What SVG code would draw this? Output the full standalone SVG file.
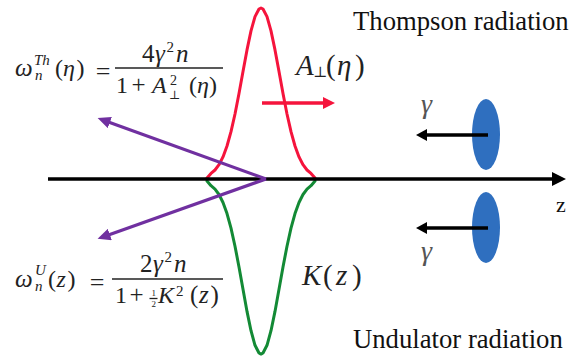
<svg xmlns="http://www.w3.org/2000/svg" width="573" height="361" viewBox="0 0 573 361">
<style>
.t{font-family:"Liberation Serif","Times New Roman","DejaVu Serif",serif;fill:#111}
.m{font-family:"Liberation Serif","Times New Roman","DejaVu Serif",serif;fill:#222}
.i{font-style:italic}
.g{fill:#555}
.curve{fill:none;stroke-width:3;stroke-linejoin:round;stroke-linecap:round}
.bar{stroke:#222;stroke-width:1.3}
</style>
<defs>
<marker id="hBlack" markerUnits="userSpaceOnUse" markerWidth="14" markerHeight="14" refX="3" refY="7" orient="auto"><path d="M0,0 L14,7 L0,14 z" fill="#000"/></marker>
<marker id="hSmall" markerUnits="userSpaceOnUse" markerWidth="11" markerHeight="12" refX="3" refY="6" orient="auto"><path d="M0,0 L11,6 L0,12 z" fill="#000"/></marker>
<marker id="hRed" markerUnits="userSpaceOnUse" markerWidth="12" markerHeight="12" refX="3" refY="6" orient="auto"><path d="M0,0 L12,6 L0,12 z" fill="#f5143c"/></marker>
<marker id="hPurple" markerUnits="userSpaceOnUse" markerWidth="13" markerHeight="12" refX="3" refY="6" orient="auto"><path d="M0,0 L13,6 L0,12 z" fill="#7030a0"/></marker>
</defs>
<rect width="573" height="361" fill="#fff"/>

<g id="label-thompson"><text class="t" x="353" y="30" font-size="26.7">Thompson radiation</text></g>
<g id="label-undulator"><text class="t" x="353" y="348" font-size="26.7">Undulator radiation</text></g>

<g id="pulse-laser">
<path class="curve" stroke="#f5143c" d="M207,178 L211,173.4 L215,170 L219,164.7 L223,156.9 L227,146 L231,131.7 L235,114 L239,93.5 L243,71.6 L247,49.9 L251,30.9 L255,16.6 L259,9 L261,8 L263,9 L267,16.6 L271,30.9 L275,49.9 L279,71.6 L283,93.5 L287,114 L291,131.7 L295,146 L299,156.9 L303,164.7 L307,170 L311,173.4 L315,178"/>
<text class="m" font-size="29"><tspan class="i" x="296" y="75">A</tspan><tspan x="313" y="77" font-size="15">⊥</tspan><tspan x="326" y="75">(</tspan><tspan class="i" x="337" y="75">η</tspan><tspan x="355" y="75">)</tspan></text>
</g>

<g id="pulse-undulator">
<path class="curve" stroke="#138a35" d="M207,181 L211,185.7 L215,189.1 L219,194.5 L223,202.5 L227,213.6 L231,228.1 L235,246.2 L239,267 L243,289.3 L247,311.4 L251,330.7 L255,345.3 L259,353 L261,354.1 L263,353 L267,345.3 L271,330.7 L275,311.4 L279,289.3 L283,267 L287,246.2 L291,228.1 L295,213.6 L299,202.5 L303,194.5 L307,189.1 L311,185.7 L315,181"/>
<text class="m" font-size="29"><tspan class="i" x="302" y="285">K</tspan><tspan x="323" y="285">(</tspan><tspan class="i" x="336" y="285">z</tspan><tspan x="352" y="285">)</tspan></text>
</g>

<g id="bunch-top">
<ellipse cx="486" cy="134.5" rx="14" ry="35.5" fill="#2f6fbf"/>
<text class="m i g" x="421" y="113" font-size="28">γ</text>
</g>
<g id="bunch-bottom">
<ellipse cx="486" cy="227.5" rx="14" ry="35.5" fill="#2f6fbf"/>
<text class="m i g" x="421" y="260" font-size="28">γ</text>
</g>

<g id="axis-label"><text class="t" x="556" y="212" font-size="22">z</text></g>

<g id="connectors">
<line x1="48" y1="179" x2="555" y2="179" stroke="#000" stroke-width="3.5" marker-end="url(#hBlack)"/>
<line x1="266" y1="179" x2="107" y2="121.5" stroke="#7030a0" stroke-width="3.2" marker-end="url(#hPurple)"/>
<line x1="266" y1="179" x2="107" y2="235.5" stroke="#7030a0" stroke-width="3.2" marker-end="url(#hPurple)"/>
<line x1="262" y1="103" x2="326" y2="103" stroke="#f5143c" stroke-width="3.5" marker-end="url(#hRed)"/>
<line x1="488" y1="135" x2="424" y2="135" stroke="#000" stroke-width="3.5" marker-end="url(#hSmall)"/>
<line x1="488" y1="228" x2="424" y2="228" stroke="#000" stroke-width="3.5" marker-end="url(#hSmall)"/>
</g>

<g id="formula-thompson">
<line class="bar" x1="115" y1="68" x2="223" y2="68"/>
<text class="m" font-size="24"><tspan class="i" x="15" y="76" font-size="25">ω</tspan><tspan class="i" x="34" y="65" font-size="15">Th</tspan><tspan class="i" x="35" y="80" font-size="15">n</tspan><tspan x="55" y="76">(</tspan><tspan class="i" x="63" y="76">η</tspan><tspan x="76.5" y="76">)</tspan><tspan x="95.7" y="80" font-size="26">=</tspan><tspan x="142" y="62" font-size="25">4</tspan><tspan class="i" x="155" y="62" font-size="25">γ</tspan><tspan x="166.5" y="52" font-size="15">2</tspan><tspan class="i" x="176" y="62" font-size="25">n</tspan><tspan x="116" y="93">1</tspan><tspan x="131.5" y="93" font-size="25">+</tspan><tspan class="i" x="152" y="93">A</tspan><tspan x="170" y="85" font-size="14">2</tspan><tspan x="169" y="99" font-size="12">⊥</tspan><tspan x="189" y="93">(</tspan><tspan class="i" x="197" y="93">η</tspan><tspan x="209" y="93">)</tspan></text>
</g>

<g id="formula-undulator">
<line class="bar" x1="112" y1="279" x2="223" y2="279"/>
<line class="bar" x1="149.5" y1="298.5" x2="157.5" y2="298.5" stroke-width="1"/>
<text class="m" font-size="24"><tspan class="i" x="15" y="287" font-size="25">ω</tspan><tspan class="i" x="35" y="275" font-size="15">U</tspan><tspan class="i" x="35" y="291" font-size="15">n</tspan><tspan x="48" y="287">(</tspan><tspan class="i" x="56.5" y="287">z</tspan><tspan x="67.5" y="287">)</tspan><tspan x="89.7" y="291" font-size="26">=</tspan><tspan x="140" y="272" font-size="25">2</tspan><tspan class="i" x="153" y="272" font-size="25">γ</tspan><tspan x="164.5" y="262" font-size="15">2</tspan><tspan class="i" x="174" y="272" font-size="25">n</tspan><tspan x="115" y="303">1</tspan><tspan x="129.5" y="303" font-size="25">+</tspan><tspan x="151.5" y="296" font-size="9">1</tspan><tspan x="151.5" y="307" font-size="9">2</tspan><tspan class="i" x="158" y="303">K</tspan><tspan x="176" y="296" font-size="15">2</tspan><tspan x="190" y="303" font-size="25">(</tspan><tspan class="i" x="199" y="303" font-size="25">z</tspan><tspan x="210.5" y="303" font-size="25">)</tspan></text>
</g>
</svg>
